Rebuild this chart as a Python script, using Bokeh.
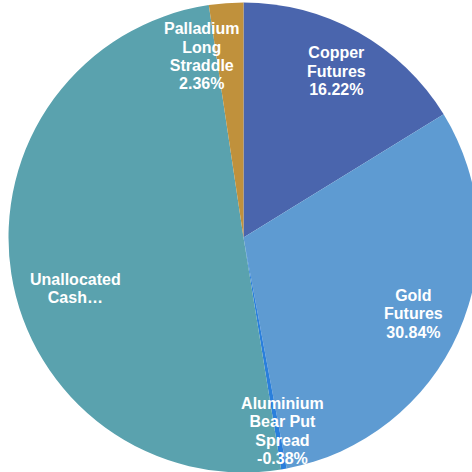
import math
from bokeh.plotting import figure
from bokeh.models import ColumnDataSource
from bokeh.core.properties import value
from bokeh.embed import file_html
from bokeh.resources import INLINE

labels = ["Copper\nFutures", "Gold\nFutures", "Aluminium\nBear Put\nSpread", "Unallocated\nCash…", "Palladium\nLong\nStraddle"]
shown_pct = ["16.22%", "30.84%", "-0.38%", "", "2.36%"]
values = [16.22, 30.84, 0.38, 50.20, 2.36]
colors = ["#4a65ad", "#5e9bd2", "#2a7fdc", "#5aa2ae", "#c0913c"]

W = H = 472
cx, cy, R = 243, 235, 235

total = sum(values)
starts, ends, mids = [], [], []
acc = 0.0
for v in values:
    a0 = math.pi / 2 - 2 * math.pi * acc / total
    acc += v
    a1 = math.pi / 2 - 2 * math.pi * acc / total
    starts.append(a0)
    ends.append(a1)
    mids.append((a0 + a1) / 2)

src = ColumnDataSource(dict(start=starts, end=ends, color=colors))

p = figure(width=W, height=H, x_range=(0, W), y_range=(0, H),
           output_backend="svg", toolbar_location=None, min_border=0)
p.axis.visible = False
p.grid.visible = False
p.outline_line_color = None
p.background_fill_color = "white"

p.wedge(x=cx, y=cy, radius=R, start_angle="start", end_angle="end",
        direction="clock", fill_color="color", line_color=None, source=src)

# label placement: along mid-angle, with best-fit nudges (pixels, +y = down)
lr = [0.81, 0.80, 0.84, 0.75, 0.79]
nudge = [(0, 0), (-2, 0), (5, -1), (6, 24), (-28, 4)]
tx, ty, tt = [], [], []
for i, m in enumerate(mids):
    x = cx + lr[i] * R * math.cos(m) + nudge[i][0]
    y = cy + lr[i] * R * math.sin(m) - nudge[i][1]
    tx.append(x)
    ty.append(y)
    tt.append(labels[i] + ("\n" + shown_pct[i] if shown_pct[i] else ""))

lsrc = ColumnDataSource(dict(x=tx, y=ty, t=tt))
p.text(x="x", y="y", text="t", source=lsrc, text_align="center",
       text_baseline="middle", text_color="white",
       text_font=value("Liberation Sans"), text_font_style="bold",
       text_font_size="16px", text_line_height=1.08)

open("out.html", "w").write(file_html(p, INLINE))
